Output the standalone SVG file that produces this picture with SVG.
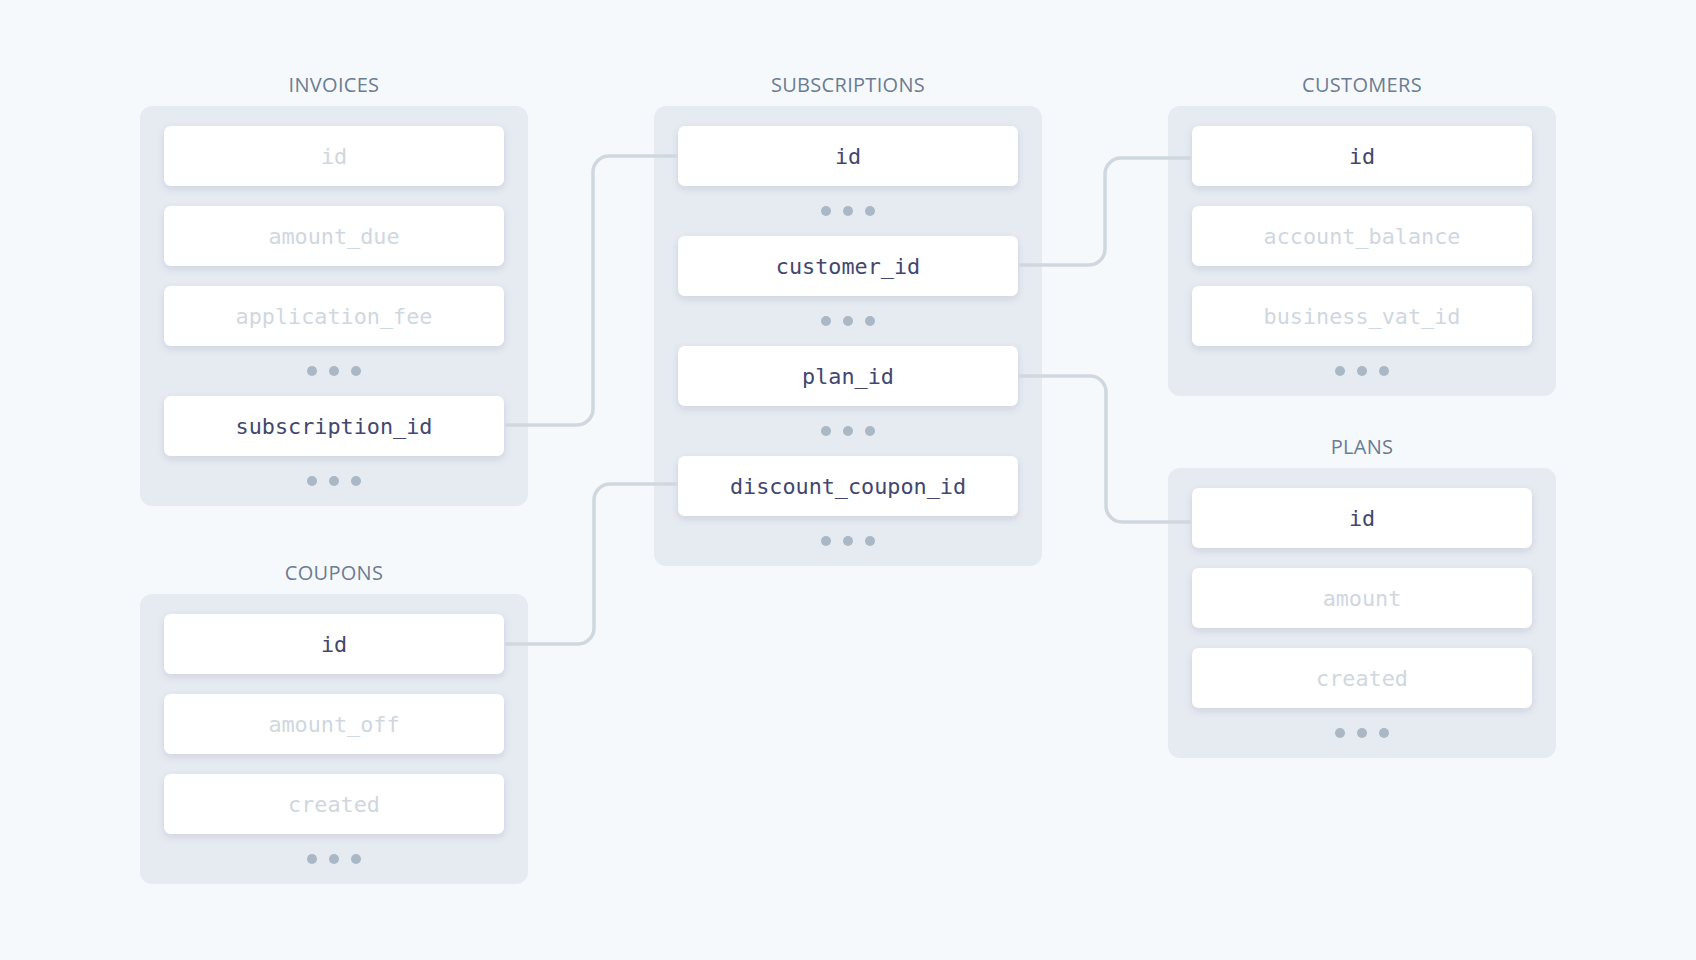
<svg xmlns="http://www.w3.org/2000/svg" width="1696" height="960" viewBox="0 0 1696 960">
<defs>
<filter id="sh" x="-10%" y="-30%" width="120%" height="170%">
<feDropShadow dx="0" dy="3" stdDeviation="3.5" flood-color="#32325d" flood-opacity="0.13"/>
</filter>
</defs>
<style>
.panel{fill:#e6ebf1}
.row{fill:#ffffff;filter:url(#sh)}
.title{font-family:"Open Sans","Noto Sans",sans-serif;font-size:20px;fill:#6b7c93;text-anchor:middle;letter-spacing:0.3px}
.t{font-family:"DejaVu Sans Mono","Liberation Mono",monospace;font-size:21.8px;text-anchor:middle}
.on{fill:#424770}
.off{fill:#cfd7df}
.dot{fill:#aab7c4}
.conn{fill:none;stroke:#cfd7df;stroke-width:3.5}
</style>
<rect x="0" y="0" width="1696" height="960" fill="#f6f9fc"/>

<g id="invoices">
<text class="title" x="334" y="92">INVOICES</text>
<rect class="panel" x="140" y="106" width="388" height="400" rx="12"/>
<rect class="row" x="164" y="126" width="340" height="60" rx="7"/>
<text class="t off" x="334" y="164">id</text>
<rect class="row" x="164" y="206" width="340" height="60" rx="7"/>
<text class="t off" x="334" y="244">amount_due</text>
<rect class="row" x="164" y="286" width="340" height="60" rx="7"/>
<text class="t off" x="334" y="324">application_fee</text>
<circle class="dot" cx="312" cy="371" r="5"/><circle class="dot" cx="334" cy="371" r="5"/><circle class="dot" cx="356" cy="371" r="5"/>
<rect class="row" x="164" y="396" width="340" height="60" rx="7"/>
<text class="t on" x="334" y="434">subscription_id</text>
<circle class="dot" cx="312" cy="481" r="5"/><circle class="dot" cx="334" cy="481" r="5"/><circle class="dot" cx="356" cy="481" r="5"/>
</g>

<g id="subscriptions">
<text class="title" x="848" y="92">SUBSCRIPTIONS</text>
<rect class="panel" x="654" y="106" width="388" height="460" rx="12"/>
<rect class="row" x="678" y="126" width="340" height="60" rx="7"/>
<text class="t on" x="848" y="164">id</text>
<circle class="dot" cx="826" cy="211" r="5"/><circle class="dot" cx="848" cy="211" r="5"/><circle class="dot" cx="870" cy="211" r="5"/>
<rect class="row" x="678" y="236" width="340" height="60" rx="7"/>
<text class="t on" x="848" y="274">customer_id</text>
<circle class="dot" cx="826" cy="321" r="5"/><circle class="dot" cx="848" cy="321" r="5"/><circle class="dot" cx="870" cy="321" r="5"/>
<rect class="row" x="678" y="346" width="340" height="60" rx="7"/>
<text class="t on" x="848" y="384">plan_id</text>
<circle class="dot" cx="826" cy="431" r="5"/><circle class="dot" cx="848" cy="431" r="5"/><circle class="dot" cx="870" cy="431" r="5"/>
<rect class="row" x="678" y="456" width="340" height="60" rx="7"/>
<text class="t on" x="848" y="494">discount_coupon_id</text>
<circle class="dot" cx="826" cy="541" r="5"/><circle class="dot" cx="848" cy="541" r="5"/><circle class="dot" cx="870" cy="541" r="5"/>
</g>

<g id="customers">
<text class="title" x="1362" y="92">CUSTOMERS</text>
<rect class="panel" x="1168" y="106" width="388" height="290" rx="12"/>
<rect class="row" x="1192" y="126" width="340" height="60" rx="7"/>
<text class="t on" x="1362" y="164">id</text>
<rect class="row" x="1192" y="206" width="340" height="60" rx="7"/>
<text class="t off" x="1362" y="244">account_balance</text>
<rect class="row" x="1192" y="286" width="340" height="60" rx="7"/>
<text class="t off" x="1362" y="324">business_vat_id</text>
<circle class="dot" cx="1340" cy="371" r="5"/><circle class="dot" cx="1362" cy="371" r="5"/><circle class="dot" cx="1384" cy="371" r="5"/>
</g>

<g id="plans">
<text class="title" x="1362" y="454">PLANS</text>
<rect class="panel" x="1168" y="468" width="388" height="290" rx="12"/>
<rect class="row" x="1192" y="488" width="340" height="60" rx="7"/>
<text class="t on" x="1362" y="526">id</text>
<rect class="row" x="1192" y="568" width="340" height="60" rx="7"/>
<text class="t off" x="1362" y="606">amount</text>
<rect class="row" x="1192" y="648" width="340" height="60" rx="7"/>
<text class="t off" x="1362" y="686">created</text>
<circle class="dot" cx="1340" cy="733" r="5"/><circle class="dot" cx="1362" cy="733" r="5"/><circle class="dot" cx="1384" cy="733" r="5"/>
</g>

<g id="coupons">
<text class="title" x="334" y="580">COUPONS</text>
<rect class="panel" x="140" y="594" width="388" height="290" rx="12"/>
<rect class="row" x="164" y="614" width="340" height="60" rx="7"/>
<text class="t on" x="334" y="652">id</text>
<rect class="row" x="164" y="694" width="340" height="60" rx="7"/>
<text class="t off" x="334" y="732">amount_off</text>
<rect class="row" x="164" y="774" width="340" height="60" rx="7"/>
<text class="t off" x="334" y="812">created</text>
<circle class="dot" cx="312" cy="859" r="5"/><circle class="dot" cx="334" cy="859" r="5"/><circle class="dot" cx="356" cy="859" r="5"/>
</g>

<g id="connectors">
<path class="conn" d="M505 425 H577 A16 16 0 0 0 593 409 V172 A16 16 0 0 1 609 156 H677"/>
<path class="conn" d="M505 644 H578 A16 16 0 0 0 594 628 V500 A16 16 0 0 1 610 484 H677"/>
<path class="conn" d="M1019 265 H1089 A16 16 0 0 0 1105 249 V174 A16 16 0 0 1 1121 158 H1191"/>
<path class="conn" d="M1019 376 H1090 A16 16 0 0 1 1106 392 V506 A16 16 0 0 0 1122 522 H1191"/>
</g>
</svg>
